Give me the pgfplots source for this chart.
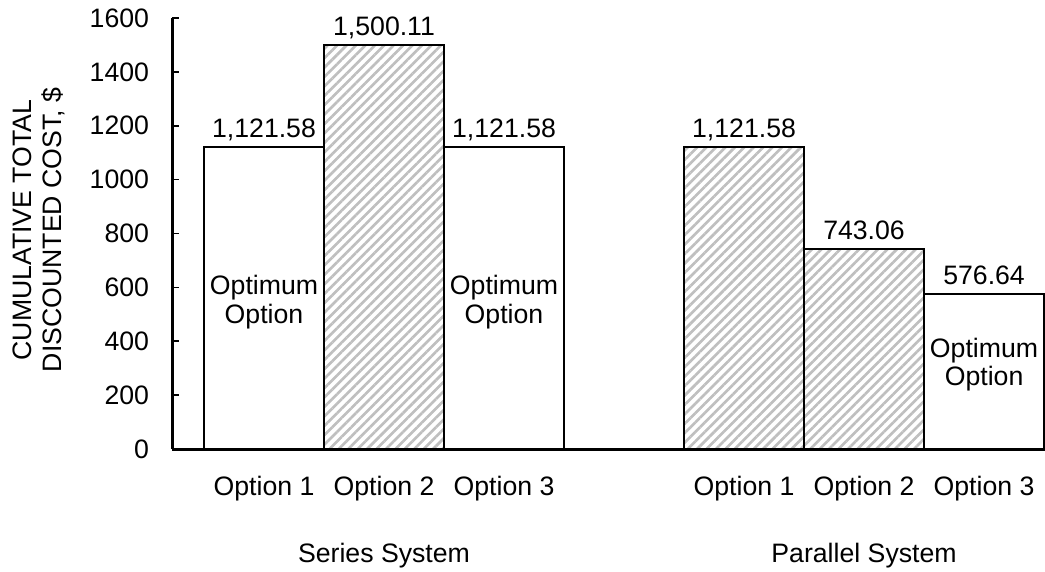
\documentclass[border=0pt]{standalone}
\usepackage{pgfplots}
\pgfplotsset{compat=1.18}
\usepackage{fontspec}
\setmainfont{Liberation Sans}
\usetikzlibrary{patterns.meta}

\pgfplotstableread{
x y lab
1 1121.58 {1,121.58}
3 1121.58 {1,121.58}
7 576.64 {576.64}
}\whitebars
\pgfplotstableread{
x y lab
2 1500.11 {1,500.11}
5 1121.58 {1,121.58}
6 743.06 {743.06}
}\hatchbars

\begin{document}
\fontsize{20}{23}\selectfont
\begin{tikzpicture}
\useasboundingbox (0,0) rectangle (783.75pt,428.25pt);
\begin{axis}[
  scale only axis,
  width=654.75pt, height=323.25pt,
  anchor=south west, at={(129pt,91.5pt)},
  xmin=0.2333, xmax=7.508,
  ymin=0, ymax=1600,
  enlargelimits=false,
  clip=false,
  axis lines=left,
  axis line style={-, line width=2.25pt, black},
  ybar, bar width=1, bar shift=0pt,
  xtick={1,2,3,5,6,7},
  xticklabels={Option 1, Option 2, Option 3, Option 1, Option 2, Option 3},
  major x tick style={draw=none},
  xticklabel style={anchor=base, yshift=-34.5pt},
  ytick={0,200,...,1600},
  tick align=inside,
  major tick length=5.5pt,
  major y tick style={line width=1.2pt, black},
  yticklabel style={anchor=east, inner sep=0pt, xshift=-17pt},
  /pgf/number format/1000 sep={},
  /pgf/number format/assume math mode=true,
  point meta=explicit symbolic,
  nodes near coords,
  every node near coord/.append style={anchor=base, yshift=7pt, inner sep=0pt},
]
\addplot[draw=black, line width=1.6pt, fill=white] table[x=x, y=y, meta=lab] {\whitebars};
\addplot[draw=black, line width=1.6pt, pattern={Lines[angle=45, distance=5pt, line width=2pt]}, pattern color=black!25] table[x=x, y=y, meta=lab] {\hatchbars};

\node[align=center, font=\fontsize{20}{21.5}\selectfont] at (axis cs:1,545) {Optimum\\Option};
\node[align=center, font=\fontsize{20}{21.5}\selectfont] at (axis cs:3,545) {Optimum\\Option};
\node[align=center, font=\fontsize{20}{21.5}\selectfont] at (axis cs:7,313) {Optimum\\Option};
\node[anchor=base, yshift=-84.75pt] at (axis cs:2,0) {Series System};
\node[anchor=base, yshift=-84.75pt] at (axis cs:6,0) {Parallel System};
\end{axis}
\node[rotate=90, align=center, font=\fontsize{20}{22.5}\selectfont] at (29.25pt,255.75pt) {CUMULATIVE TOTAL\\DISCOUNTED COST, \$};
\end{tikzpicture}
\end{document}
